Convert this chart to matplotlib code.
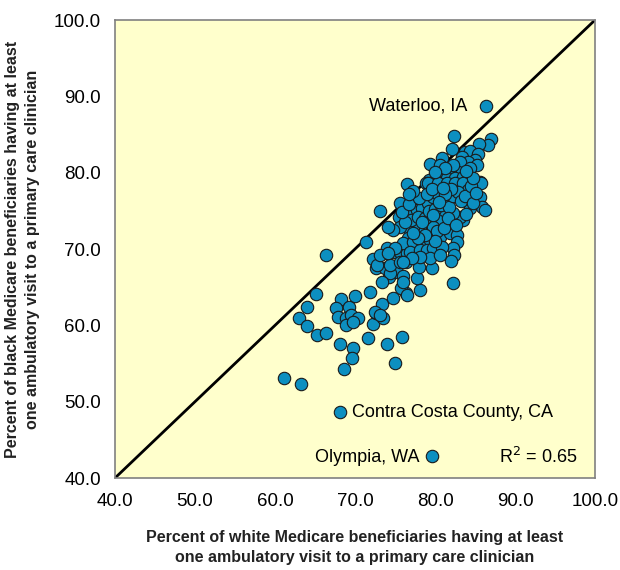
import matplotlib.pyplot as plt
import numpy as np
from matplotlib.ticker import FormatStrFormatter

plt.rcParams['font.family'] = ['Liberation Sans', 'DejaVu Sans']

# percent of white beneficiaries (x) and black beneficiaries (y), one entry per region
white_pct = [
    61.1, 63.25, 66.4, 71.4, 73.1, 65.1, 64.0, 63.0, 64.0, 65.3,
    66.4, 68.25, 67.6, 69.25, 70.0, 67.9, 68.9, 69.5, 70.4, 68.9,
    69.75, 71.9, 68.1, 69.75, 71.6, 74.0, 72.25, 72.6, 73.4, 73.5,
    74.75, 74.25, 72.6, 73.75, 75.25, 68.6, 69.6, 75.0, 82.25, 78.1,
    76.4, 75.75, 75.9, 77.75, 76.0, 79.6, 78.0, 72.25, 72.75, 74.0,
    74.75, 75.6, 76.5, 77.25, 76.4, 74.4, 73.4, 76.0, 76.5, 72.5,
    73.1,
    82.4, 87.0, 86.6, 85.5, 82.1, 80.9, 79.4, 80.6, 83.75, 84.4,
    83.4, 85.4, 85.0, 84.1, 83.1, 85.25, 84.4, 82.9, 81.9, 80.6,
    79.25, 78.9, 80.0, 81.5, 82.5, 83.5, 85.6, 76.5,
    75.6, 75.5, 77.5, 76.9, 77.75, 78.4, 79.1, 79.75, 80.25, 79.1,
    80.4, 81.5, 82.5, 83.5, 85.75, 84.1, 85.6, 85.9, 86.25, 84.4,
    83.5, 83.1, 82.25, 81.0, 81.5, 80.25, 79.4, 79.0, 79.75, 78.1,
    77.25, 76.5, 75.6, 74.75, 74.1, 76.6, 76.0, 77.25, 78.5, 79.4,
    80.6, 81.9, 82.75, 82.75, 82.25, 82.4, 82.0, 74.0, 75.0, 73.1,
    76.9, 78.1, 79.0, 79.75, 80.9, 79.4, 80.6, 78.1, 77.1, 74.4,
    75.6, 74.1, 76.0,
    77.0, 77.9, 78.7, 78.4, 79.2, 80.0, 80.8, 81.4, 81.8, 82.3,
    82.9, 83.2, 83.8, 84.5, 84.8, 83.9, 82.0, 81.2, 80.5, 79.8,
    80.3, 81.1, 81.6, 82.6, 83.9, 84.7, 85.1, 80.0, 78.8, 77.9,
    77.3, 76.3, 75.9, 76.8, 78.0, 79.0, 79.6, 81.0, 82.2, 81.2,
    80.0, 77.2, 76.8,
]
black_pct = [
    53.1, 52.3, 69.2, 70.9, 75.0, 64.1, 62.4, 60.9, 59.9, 58.7,
    59.0, 63.4, 62.3, 62.4, 63.8, 61.1, 61.0, 61.4, 61.0, 60.0,
    60.4, 64.4, 57.5, 57.0, 58.3, 57.6, 60.2, 61.6, 62.8, 61.0,
    63.6, 66.3, 67.5, 67.5, 67.0, 54.3, 55.7, 55.1, 65.5, 64.6,
    64.2, 64.9, 58.5, 66.2, 66.5, 67.5, 67.6, 68.7, 67.9, 69.5,
    69.6, 69.6, 69.5, 69.5, 68.3, 66.9, 65.7, 65.7, 64.0, 61.7,
    61.3,
    84.8, 84.4, 83.6, 83.8, 83.1, 81.9, 81.1, 81.0, 82.7, 82.8,
    82.1, 82.4, 81.7, 81.4, 81.4, 81.0, 80.6, 80.1, 80.0, 80.0,
    79.0, 78.7, 78.8, 79.3, 79.3, 79.4, 78.8, 78.5,
    76.0, 74.2, 76.2, 74.8, 75.1, 75.4, 76.0, 76.8, 77.3, 78.6,
    78.6, 78.6, 78.6, 78.6, 78.6, 77.7, 76.8, 75.5, 75.1, 75.4,
    73.8, 74.2, 74.7, 74.7, 73.4, 73.8, 74.1, 72.9, 72.9, 72.9,
    72.9, 72.9, 72.9, 72.5, 72.9, 71.4, 70.8, 70.9, 70.9, 71.2,
    71.6, 72.1, 71.8, 70.9, 70.1, 69.2, 68.4, 70.1, 70.1, 69.2,
    69.6, 69.9, 69.9, 70.1, 70.3, 68.8, 69.2, 69.0, 68.8, 67.9,
    68.3, 69.5, 68.3,
    73.8, 74.2, 74.0, 73.5, 75.0, 75.3, 75.8, 76.4, 75.5, 76.9,
    77.5, 76.3, 77.0, 78.3, 79.3, 80.2, 77.8, 77.2, 76.2, 74.5,
    72.4, 72.8, 74.0, 73.2, 74.6, 76.0, 77.4, 71.0, 71.8, 71.5,
    72.1, 73.6, 74.9, 75.9, 76.7, 77.2, 77.9, 78.0, 81.0, 80.6,
    80.1, 77.6, 77.2,
]

# labelled regions
named_regions = ['Waterloo, IA', 'Contra Costa County, CA', 'Olympia, WA']
named_white = [86.4, 68.1, 79.6]
named_black = [88.7, 48.6, 42.9]
r_squared = 0.65

ticks = [40, 50, 60, 70, 80, 90, 100]

fig = plt.figure(figsize=(6.2, 5.7), dpi=100)
ax = fig.add_axes([0.1855, 0.1614, 0.7742, 0.8035])
ax.set_facecolor('#FFFFCC')

ax.plot([40, 100], [40, 100], color='black', lw=2, zorder=2)

pt_style = dict(s=80, color='#0C8FC0', edgecolor='#1a1a1a', linewidth=0.8, zorder=3)
ax.scatter(white_pct, black_pct, **pt_style)
ax.scatter(named_white, named_black, **pt_style)

fs = 13
ax.text(84.1, 88.7, named_regions[0], ha='right', va='center', fontsize=fs)
ax.text(69.6, 48.6, named_regions[1], ha='left', va='center', fontsize=fs)
ax.text(78.1, 42.7, named_regions[2], ha='right', va='center', fontsize=fs)
ax.text(88.0, 42.7, 'R$^2$ = %.2f' % r_squared, ha='left', va='center', fontsize=fs)

ax.set_xlim(40, 100)
ax.set_ylim(40, 100)
ax.set_xticks(ticks)
ax.set_yticks(ticks)
ax.xaxis.set_major_formatter(FormatStrFormatter('%.1f'))
ax.yaxis.set_major_formatter(FormatStrFormatter('%.1f'))
ax.tick_params(axis='both', length=0, labelsize=13.5)
ax.tick_params(axis='x', pad=11)
ax.tick_params(axis='y', pad=10)

for sp in ax.spines.values():
    sp.set_color('#808080')
    sp.set_linewidth(1.2)

ax.set_xlabel('Percent of white Medicare beneficiaries having at least\n'
              'one ambulatory visit to a primary care clinician',
              fontsize=11.5, fontweight='bold', labelpad=14, color='#222222',
              linespacing=1.45)
ax.set_ylabel('Percent of black Medicare beneficiaries having at least\n'
              'one ambulatory visit to a primary care clinician',
              fontsize=11.5, fontweight='bold', labelpad=10, color='#222222',
              linespacing=1.4)

fig.savefig('out.png', dpi=100)
